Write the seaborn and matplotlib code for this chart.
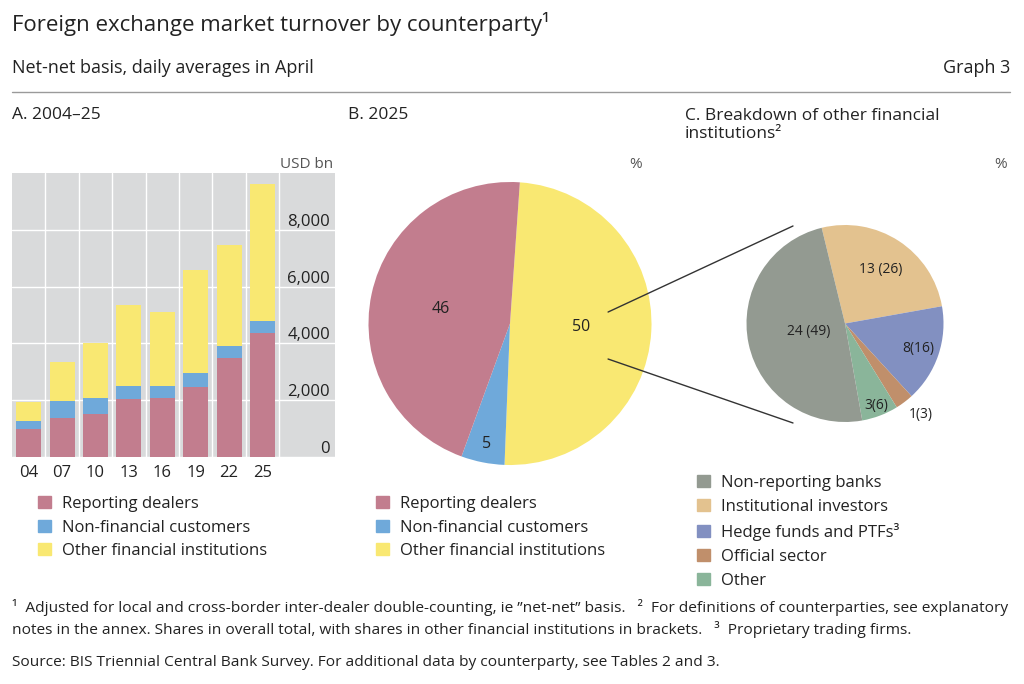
import numpy as np
import matplotlib
matplotlib.use("Agg")
import matplotlib.pyplot as plt
import matplotlib.transforms as mtransforms
from matplotlib.patches import Patch, ConnectionPatch
from matplotlib.lines import Line2D
import seaborn as sns
import pandas as pd

# ---------------- data ----------------
years = ["04", "07", "10", "13", "16", "19", "22", "25"]
reporting_dealers = [980, 1380, 1520, 2040, 2090, 2480, 3490, 4365]
non_financial = [285, 590, 555, 470, 400, 485, 425, 440]
other_financial = [685, 1370, 1925, 2845, 2600, 3620, 3565, 4815]
y_ticks = [0, 2000, 4000, 6000, 8000]

series_labels = ["Reporting dealers", "Non-financial customers", "Other financial institutions"]

pie_b_names = ["Other financial institutions", "Non-financial customers", "Reporting dealers"]
pie_b_values = [50, 5, 46]

pie_c_names = ["Institutional investors", "Hedge funds and PTFs", "Official sector", "Other", "Non-reporting banks"]
pie_c_share_total = [13, 8, 1, 3, 24]
pie_c_share_ofi = [26, 16, 3, 6, 49]
pie_c_label_text = ["13 (26)", "8(16)", "1(3)", "3(6)", "24 (49)"]
legend_c_names = ["Non-reporting banks", "Institutional investors", "Hedge funds and PTFs\u00b3", "Official sector", "Other"]

# ---------------- style ----------------
RED = "#C27D8E"
BLUE = "#6FA9DA"
YEL = "#F9E872"
C_GRAY = "#939A91"
C_TAN = "#E3C28F"
C_PURP = "#8290C1"
C_BROWN = "#C08F6B"
C_GREEN = "#8AB59A"
TXT = "#222222"
SUB = "#555555"

sns.set_theme(style="white")
plt.rcParams["font.family"] = ["Open Sans", "DejaVu Sans"]
plt.rcParams["text.color"] = TXT

W, H = 1024, 684
fig = plt.figure(figsize=(W / 100, H / 100), dpi=100)


def fx(px):
    return px / W


def fy(py):
    return 1 - py / H


# ---------------- header ----------------
fig.text(fx(12), fy(24), "Foreign exchange market turnover by counterparty\u00b9",
         fontsize=16, va="center", ha="left", color=TXT)
fig.text(fx(12), fy(68), "Net-net basis, daily averages in April", fontsize=13,
         va="center", ha="left", color=TXT)
fig.text(fx(1010), fy(68), "Graph 3", fontsize=13, va="center", ha="right", color=TXT)
fig.add_artist(Line2D([fx(12), fx(1010)], [fy(92), fy(92)], color="#9a9a9a", lw=1))

fig.text(fx(12), fy(115), "A. 2004\u201325", fontsize=12.5, va="center", ha="left", color=TXT)
fig.text(fx(348), fy(115), "B. 2025", fontsize=12.5, va="center", ha="left", color=TXT)
fig.text(fx(685), fy(125), "C. Breakdown of other financial\ninstitutions\u00b2", fontsize=12.5,
         va="center", ha="left", color=TXT, linespacing=1.15)

# ---------------- panel A: stacked bars ----------------
axA = fig.add_axes([fx(12), fy(457), fx(335) - fx(12), fy(173) - fy(457)])
df = pd.DataFrame({"year": years, "rd": reporting_dealers, "nfc": non_financial, "ofi": other_financial})
df["lvl2"] = df["rd"] + df["nfc"]
df["lvl3"] = df["lvl2"] + df["ofi"]
for col, c in [("lvl3", YEL), ("lvl2", BLUE), ("rd", RED)]:
    sns.barplot(data=df, x="year", y=col, color=c, width=0.75, saturation=1,
                ax=axA, linewidth=0, zorder=3, errorbar=None)

axA.set_facecolor("#D9DADB")
for s in axA.spines.values():
    s.set_visible(False)
axA.set_xlim(-0.5, 9.17)
axA.set_ylim(0, 10000)
for v in y_ticks:
    axA.axhline(v, color="white", lw=1, zorder=1)
for i in range(len(years)):
    axA.axvline(i + 0.5, color="white", lw=1, zorder=1)
axA.set_yticks([])
axA.set_xticks(range(len(years)))
axA.set_xticklabels(years, fontsize=12, color=TXT)
axA.tick_params(axis="x", length=0, pad=6)
axA.set_xlabel("")
axA.set_ylabel("")
trans = mtransforms.offset_copy(mtransforms.blended_transform_factory(axA.transAxes, axA.transData),
                                fig=fig, x=0, y=4, units="dots")
for v in y_ticks:
    axA.text(0.985, v, f"{v:,}", transform=trans, ha="right", va="baseline", fontsize=12, color=TXT)
fig.text(fx(333), fy(164), "USD bn", fontsize=11, ha="right", va="center", color=SUB)

leg_kw = dict(loc="upper left", frameon=False, fontsize=12, handlelength=0.75, handleheight=0.75,
              handletextpad=0.7, borderpad=0, borderaxespad=0)
fig.legend(handles=[Patch(color=c, label=l) for c, l in zip([RED, BLUE, YEL], series_labels)],
           bbox_to_anchor=(fx(38), fy(496)), labelspacing=0.45, **leg_kw)

# ---------------- panel B: pie ----------------
cxB, cyB, rB = 510, 323.5, 141.5
axB = fig.add_axes([fx(cxB - rB), fy(cyB + rB), fx(2 * rB), (2 * rB) / H])
wedgesB, _ = axB.pie(pie_b_values, colors=[YEL, BLUE, RED], startangle=86, counterclock=False,
                     wedgeprops=dict(linewidth=0))
axB.set_xlim(-1, 1)
axB.set_ylim(-1, 1)
for w, lab, rr in zip(wedgesB, pie_b_values, [0.5, 0.87, 0.5]):
    a = np.deg2rad((w.theta1 + w.theta2) / 2)
    axB.text(rr * np.cos(a), rr * np.sin(a), str(lab), ha="center", va="center", fontsize=11.5, color=TXT)
fig.text(fx(642), fy(164), "%", fontsize=11, ha="right", va="center", color=SUB)

fig.legend(handles=[Patch(color=c, label=l) for c, l in zip([RED, BLUE, YEL], series_labels)],
           bbox_to_anchor=(fx(376), fy(496)), labelspacing=0.45, **leg_kw)

# ---------------- panel C: pie ----------------
cxC, cyC, rC = 845, 323.5, 98.5
axC = fig.add_axes([fx(cxC - rC), fy(cyC + rC), fx(2 * rC), (2 * rC) / H])
wedgesC, _ = axC.pie(pie_c_share_ofi, colors=[C_TAN, C_PURP, C_BROWN, C_GREEN, C_GRAY],
                     startangle=103.7, counterclock=False, wedgeprops=dict(linewidth=0))
axC.set_xlim(-1, 1)
axC.set_ylim(-1, 1)
for w, lab, rr in zip(wedgesC, pie_c_label_text, [0.66, 0.79, 1.2, 0.89, 0.38]):
    a = np.deg2rad((w.theta1 + w.theta2) / 2)
    if lab == "1(3)":
        a = np.deg2rad(-50)
    axC.text(rr * np.cos(a), rr * np.sin(a), lab, ha="center", va="center", fontsize=10, color=TXT)
fig.text(fx(1007), fy(164), "%", fontsize=11, ha="right", va="center", color=SUB)

for yA, yB in [(0.081, 0.99), (-0.251, -1.01)]:
    con = ConnectionPatch(xyA=(0.693, yA), coordsA=axB.transData, xyB=(-0.528, yB), coordsB=axC.transData,
                          color="#333333", lw=1)
    fig.add_artist(con)

fig.legend(handles=[Patch(color=c, label=l) for c, l in
                    zip([C_GRAY, C_TAN, C_PURP, C_BROWN, C_GREEN], legend_c_names)],
           bbox_to_anchor=(fx(697), fy(475)), labelspacing=0.48, **leg_kw)

# ---------------- footnotes ----------------
fig.text(fx(12), fy(607),
         "\u00b9  Adjusted for local and cross-border inter-dealer double-counting, ie \u201dnet-net\u201d basis.   "
         "\u00b2  For definitions of counterparties, see explanatory",
         fontsize=11.15, ha="left", va="center", color=TXT)
fig.text(fx(12), fy(630),
         "notes in the annex. Shares in overall total, with shares in other financial institutions in brackets.   "
         "\u00b3  Proprietary trading firms.",
         fontsize=11.15, ha="left", va="center", color=TXT)
fig.text(fx(12), fy(663),
         "Source: BIS Triennial Central Bank Survey. For additional data by counterparty, see Tables 2 and 3.",
         fontsize=11.15, ha="left", va="center", color=TXT)

fig.savefig("out.png", dpi=100)
